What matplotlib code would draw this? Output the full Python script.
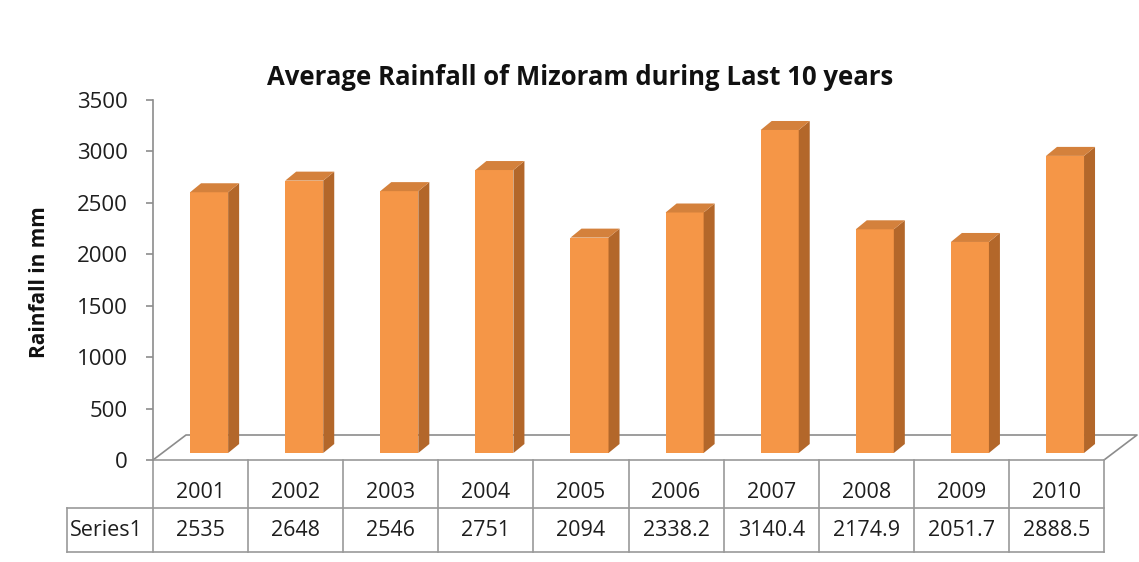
import numpy as np
import matplotlib
matplotlib.use('Agg')
import matplotlib.pyplot as plt
from matplotlib.patches import Polygon

years = ['2001', '2002', '2003', '2004', '2005', '2006', '2007', '2008', '2009', '2010']
rainfall = [2535, 2648, 2546, 2751, 2094, 2338.2, 3140.4, 2174.9, 2051.7, 2888.5]
value_labels = ['2535', '2648', '2546', '2751', '2094', '2338.2', '3140.4', '2174.9', '2051.7', '2888.5']
series_name = 'Series1'
yticks = [0, 500, 1000, 1500, 2000, 2500, 3000, 3500]

plt.rcParams['font.family'] = ['Open Sans', 'DejaVu Sans']

W, H = 1139, 562
fig = plt.figure(figsize=(W / 100, H / 100), dpi=100)
fig.patch.set_facecolor('white')

# plot area: x 0..10 -> px 153..1104, y 0..3500 -> px 460..100
x0_px, x1_px, y0_px, y1_px = 153, 1104, 460, 100
ax = fig.add_axes([x0_px / W, 1 - y0_px / H, (x1_px - x0_px) / W, (y0_px - y1_px) / H])
ax.set_xlim(0, 10)
ax.set_ylim(0, 3500)
ax.patch.set_alpha(0)

ux = 10 / (x1_px - x0_px)        # data units per pixel in x
uy = 3500 / (y0_px - y1_px)      # data units per pixel in y

edge = '#8c8c8c'
txt = '#1e1e1e'

# floor of the 3d plot
fdx, fdy = 33 * ux, 25 * uy
ax.plot([0, fdx, 10 + fdx, 10], [0, fdy, fdy, 0], color=edge, lw=1.2, clip_on=False, zorder=1)

# bars
front = '#f59647'
side = '#b3672a'
top = '#d4813c'
idx = np.arange(len(years))
bw = 0.40
left = idx + 0.39
base = 7 * uy
sdx, sdy = 11 * ux, 9 * uy
ax.bar(left, rainfall, width=bw, bottom=base, align='edge', color=front, zorder=3)
for l, v in zip(left, rainfall):
    r = l + bw
    t = base + v
    ax.add_patch(Polygon([(r, base), (r + sdx, base + sdy), (r + sdx, t + sdy), (r, t)],
                         closed=True, facecolor=side, edgecolor='none', zorder=3))
    ax.add_patch(Polygon([(l, t), (r, t), (r + sdx, t + sdy), (l + sdx, t + sdy)],
                         closed=True, facecolor=top, edgecolor='none', zorder=3))

# axes styling
for s in ['top', 'right', 'bottom']:
    ax.spines[s].set_visible(False)
ax.spines['left'].set_color(edge)
ax.spines['left'].set_linewidth(1.2)
ax.set_xticks([])
ax.set_yticks(yticks)
ax.set_yticklabels([str(t) for t in yticks])
ax.tick_params(axis='y', direction='out', length=5, width=1.2, color=edge,
               labelsize=16, labelcolor=txt, pad=13)

# data table below the floor
row1 = -48 * uy
row2 = -92 * uy
lab_left = (67 - x0_px) * ux
tcol = '#9a9a9a'
ax.plot([0, 10], [0, 0], color=tcol, lw=1.2, clip_on=False)
ax.plot([lab_left, 10], [row1, row1], color=tcol, lw=1.2, clip_on=False)
ax.plot([lab_left, 10], [row2, row2], color=tcol, lw=1.2, clip_on=False)
for i in range(len(years) + 1):
    ax.plot([i, i], [0, row2], color=tcol, lw=1.2, clip_on=False)
ax.plot([lab_left, lab_left], [row1, row2], color=tcol, lw=1.2, clip_on=False)

ty1 = -33 * uy
ty2 = -70 * uy
for i, (yr, vl) in enumerate(zip(years, value_labels)):
    ax.text(i + 0.5, ty1, yr, ha='center', va='center', fontsize=15.5, color=txt, clip_on=False)
    ax.text(i + 0.5, ty2, vl, ha='center', va='center', fontsize=15.5, color=txt, clip_on=False)
ax.text(lab_left + 3 * ux, ty2, series_name, ha='left', va='center', fontsize=15.5, color=txt, clip_on=False)

# titles
fig.text(580 / W, 1 - 77 / H, 'Average Rainfall of Mizoram during Last 10 years',
         ha='center', va='center', fontsize=18.5, fontweight='bold', color='#111111')
fig.text(40 / W, 1 - 282 / H, 'Rainfall in mm', ha='center', va='center', rotation=90,
         fontsize=15, fontweight='bold', color='#111111')

fig.savefig('out.png', dpi=100, facecolor='white')
